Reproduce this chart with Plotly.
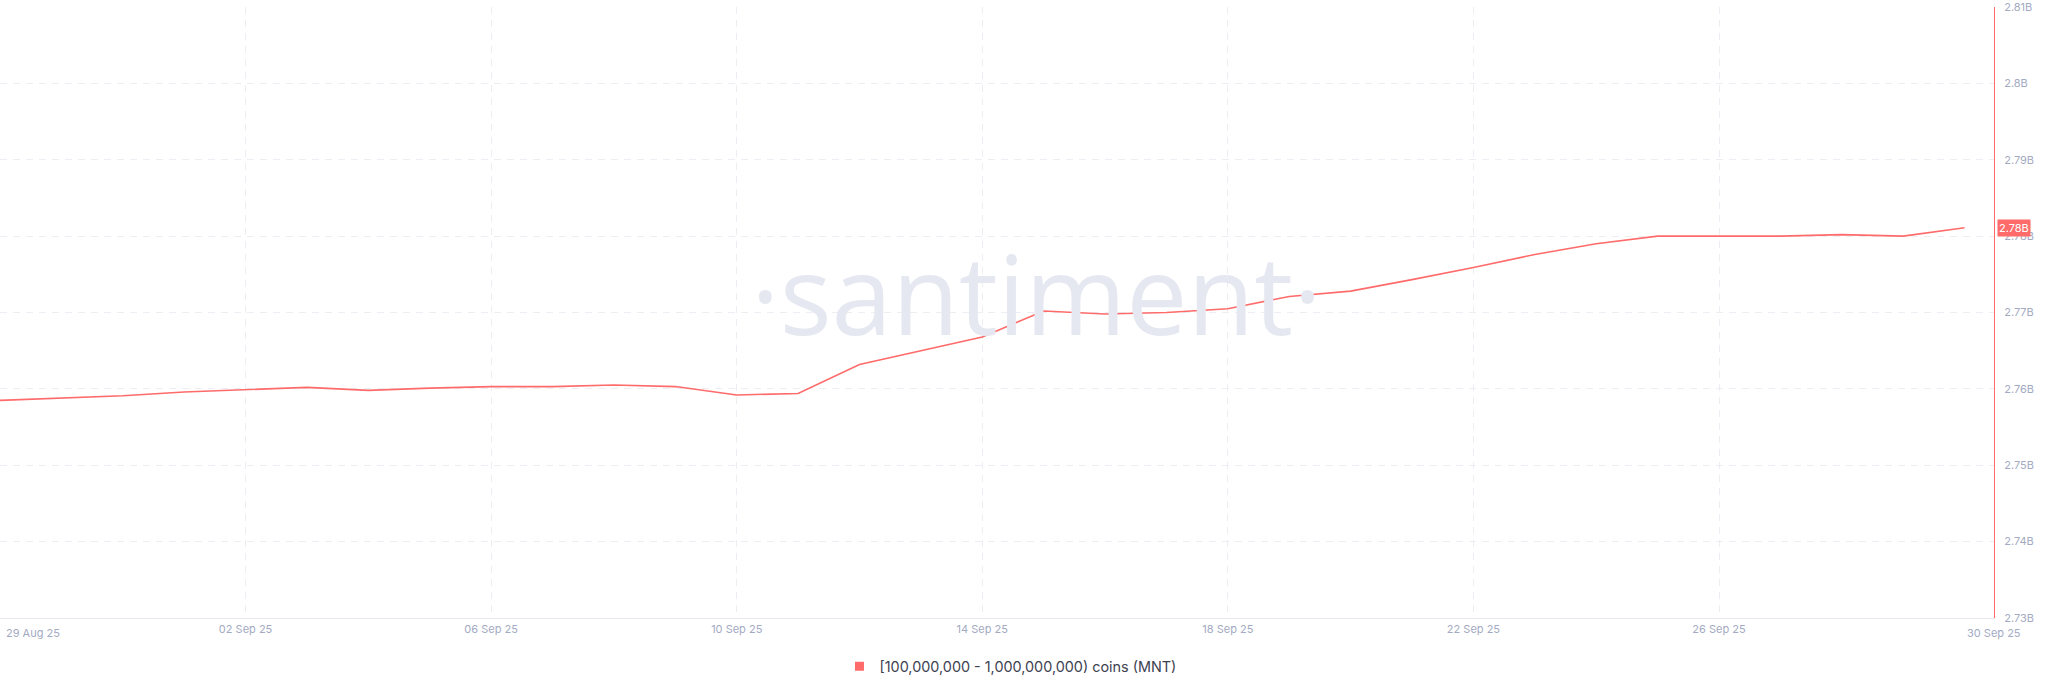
import plotly.graph_objects as go
import pandas as pd

dates = pd.date_range("2025-08-29", "2025-09-30", freq="D")
values_b = [2.7585, 2.7588, 2.7591, 2.7596, 2.7599, 2.7602, 2.7598, 2.7601, 2.7603, 2.7603,
            2.7605, 2.7603, 2.7592, 2.7594, 2.7632, 2.7650, 2.7668, 2.7702, 2.7698, 2.7700,
            2.7705, 2.7721, 2.7728, 2.7743, 2.7759, 2.7776, 2.7790, 2.7800, 2.7800, 2.7800,
            2.7802, 2.7800, 2.7811]
values = [v * 1e9 for v in values_b]

series_name = "[100,000,000 - 1,000,000,000) coins (MNT)"
y_tickvals = [2.73e9, 2.74e9, 2.75e9, 2.76e9, 2.77e9, 2.78e9, 2.79e9, 2.80e9, 2.81e9]
y_ticktext = ["2.73B", "2.74B", "2.75B", "2.76B", "2.77B", "2.78B", "2.79B", "2.8B", "2.81B"]
x_tickvals = ["2025-08-29", "2025-09-02", "2025-09-06", "2025-09-10", "2025-09-14",
              "2025-09-18", "2025-09-22", "2025-09-26"]
x_ticktext = ["", "02 Sep 25", "06 Sep 25", "10 Sep 25", "14 Sep 25",
              "18 Sep 25", "22 Sep 25", "26 Sep 25"]
first_label = ("2025-08-29", "29 Aug 25")
last_label = ("2025-09-30", "30 Sep 25")
last_value_label = "2.78B"

RED = "#ff6b6b"
GRID = "#eceef4"
TICK = "#a3aac2"
FONT = "Inter, Liberation Sans, sans-serif"

fig = go.Figure()
fig.add_trace(go.Scatter(x=dates, y=values, mode="lines", line=dict(color=RED, width=1.6),
                         showlegend=False, hoverinfo="skip"))
fig.add_trace(go.Scatter(x=[None], y=[None], mode="markers", name=series_name,
                         marker=dict(symbol="square", size=9, color=RED)))

fig.update_layout(
    width=2048, height=693,
    margin=dict(l=0, r=54, t=7, b=75),
    paper_bgcolor="white", plot_bgcolor="white",
    font=dict(family=FONT, color=TICK, size=11),
    legend=dict(orientation="h", x=0.421, xanchor="left", y=-0.079, yanchor="middle",
                font=dict(size=14.4, color="#3d4250", family=FONT),
                bgcolor="rgba(0,0,0,0)"),
    xaxis=dict(range=["2025-08-29", "2025-09-30 11:30"], tickvals=x_tickvals, ticktext=x_ticktext,
               showgrid=True, gridcolor=GRID, griddash="7px,6px", gridwidth=1,
               showline=True, linecolor="#e6e8f0", linewidth=1, ticks="",
               tickfont=dict(size=11, color=TICK), zeroline=False, ticklabelstandoff=1),
    yaxis=dict(range=[2.73e9, 2.81e9], side="right", tickvals=y_tickvals, ticktext=y_ticktext,
               showgrid=True, gridcolor=GRID, griddash="7px,6px", gridwidth=1,
               showline=True, linecolor=RED, linewidth=1, ticks="",
               tickfont=dict(size=11, color=TICK), zeroline=False, ticklabelstandoff=7,
               ticklabeloverflow="allow"),
)

fig.add_annotation(text="·santiment·", xref="paper", yref="paper", x=1036 / 1994, y=0.532,
                   yanchor="middle", showarrow=False,
                   font=dict(family="Open Sans, sans-serif", size=109, weight=400,
                             color="#e6e8f1"))

fig.add_annotation(text=first_label[1], x=first_label[0], xref="x", yref="paper", y=-0.01,
                   xanchor="left", yanchor="top", xshift=4, showarrow=False,
                   font=dict(size=11, color=TICK, family=FONT))
fig.add_annotation(text=last_label[1], x=last_label[0], xref="x", yref="paper", y=-0.01,
                   xanchor="left", yanchor="top", showarrow=False,
                   font=dict(size=11, color=TICK, family=FONT))

fig.add_annotation(text=last_value_label, xref="paper", yref="y", x=1, y=values[-1],
                   xanchor="left", yanchor="middle", xshift=3, showarrow=False,
                   bgcolor=RED, borderpad=1,
                   font=dict(size=11, color="white", family=FONT))

fig.write_html("out.html", config={"displayModeBar": False},
               post_script="document.body.style.margin='0';")
